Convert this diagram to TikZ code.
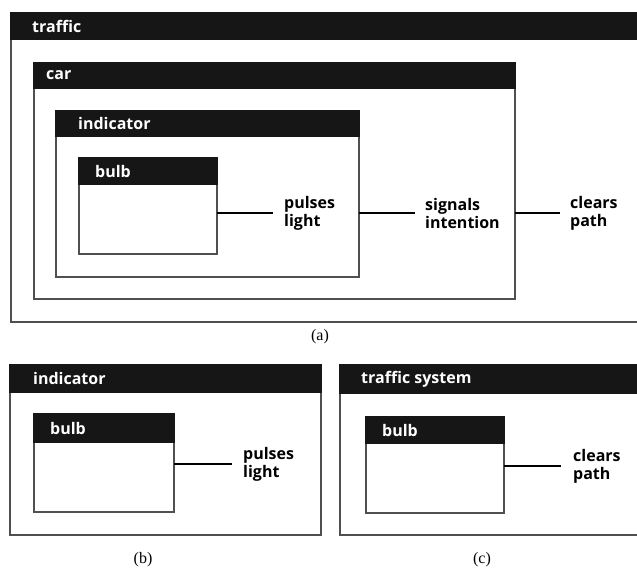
\documentclass[tikz,border=0pt]{standalone}
\usepackage{fontspec}
\setmainfont{Liberation Serif}
\newfontfamily\boxfont{Open Sans}
\usetikzlibrary{positioning}

\definecolor{hdr}{HTML}{161616}
\definecolor{framec}{HTML}{505050}

\tikzset{
  frame/.style={draw=framec, line width=1.4pt, anchor=north west, inner sep=0pt, outer sep=0pt},
  header/.style={fill=hdr, draw=hdr, line width=1.4pt, anchor=north west, inner sep=0pt, outer sep=0pt, minimum height=26pt},
  title/.style={text=white, font=\boxfont\bfseries\fontsize{16}{18}\selectfont, anchor=west, inner sep=0pt},
  what/.style={font=\boxfont\bfseries\fontsize{16}{18}\selectfont, align=left, anchor=west, inner sep=0pt},
  link/.style={line width=2.6pt},
  caption/.style={font=\fontsize{16}{18}\selectfont, inner sep=0pt}
}

\begin{document}
\begin{tikzpicture}[x=1pt, y=-1pt]
\useasboundingbox (0,0) rectangle (637,568);

% (a)
\node[frame, minimum width=629pt, minimum height=309pt] (traffic) at (11,13) {};
\node[header, minimum width=629pt] (trafficH) at (traffic.north west) {};
\node[title, right=21pt of trafficH.west] (trafficT) {traffic};

\node[frame, minimum width=481pt, minimum height=236pt] (car) at (34,63) {};
\node[header, minimum width=481pt, minimum height=25pt] (carH) at (car.north west) {};
\node[title, right=12pt of carH.west] (carT) {car};

\node[frame, minimum width=303pt, minimum height=166pt] (indA) at (56,111) {};
\node[header, minimum width=303pt, minimum height=25pt] (indAH) at (indA.north west) {};
\node[title, right=22pt of indAH.west] (indAT) {indicator};

\node[frame, minimum width=138pt, minimum height=96pt] (bulbA) at (79,158) {};
\node[header, minimum width=138pt] (bulbAH) at (bulbA.north west) {};
\node[title, right=16pt of bulbAH.west] (bulbAT) {bulb};

\node[what] (pulsesA) at (284,213) {pulses\\light};
\node[what] (signals) at (425,213) {signals\\intention};
\node[what] (clearsA) at (570,213) {clears\\path};

\draw[link] (bulbA.east |- pulsesA.west) -- ([xshift=-11pt]pulsesA.west);
\draw[link] (indA.east |- signals.west) -- ([xshift=-10pt]signals.west);
\draw[link] (car.east |- clearsA.west) -- ([xshift=-10pt]clearsA.west);

\node[caption] (capA) at (320,337) {(a)};

% (b)
\node[frame, minimum width=311pt, minimum height=170pt] (indB) at (10,365) {};
\node[header, minimum width=311pt, minimum height=27pt] (indBH) at (indB.north west) {};
\node[title, right=23pt of indBH.west] (indBT) {indicator};

\node[frame, minimum width=140pt, minimum height=98pt] (bulbB) at (34,414) {};
\node[header, minimum width=140pt, minimum height=28pt] (bulbBH) at (bulbB.north west) {};
\node[title, right=16pt of bulbBH.west] (bulbBT) {bulb};

\node[what] (pulsesB) at (243,464) {pulses\\light};
\draw[link] (bulbB.east |- pulsesB.west) -- ([xshift=-11pt]pulsesB.west);

\node[caption] (capB) at (143,560) {(b)};

% (c)
\node[frame, minimum width=300pt, minimum height=170pt] (sys) at (340,365) {};
\node[header, minimum width=300pt, minimum height=28pt] (sysH) at (sys.north west) {};
\node[title, right=21pt of sysH.west] (sysT) {traffic system};

\node[frame, minimum width=138pt, minimum height=96pt] (bulbC) at (366,417) {};
\node[header, minimum width=138pt] (bulbCH) at (bulbC.north west) {};
\node[title, right=16pt of bulbCH.west] (bulbCT) {bulb};

\node[what] (clearsC) at (573,466) {clears\\path};
\draw[link] (bulbC.east |- clearsC.west) -- ([xshift=-12pt]clearsC.west);

\node[caption] (capC) at (482,560) {(c)};
\end{tikzpicture}
\end{document}
